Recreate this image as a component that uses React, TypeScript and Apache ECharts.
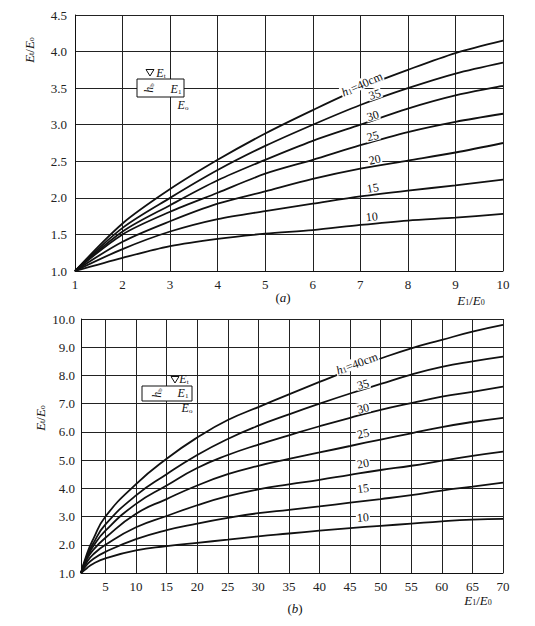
import React, { useEffect, useRef } from "react";
import * as echarts from "echarts";

const SERIF = "'Liberation Serif', 'DejaVu Serif', serif";
const INK = "#111";

// ---------- chart (a) ----------
const xA = [1, 2, 3, 4, 5, 6, 7, 8, 9, 10];
const hLevels = [40, 35, 30, 25, 20, 15, 10];
const a40 = [1, 1.65, 2.12, 2.52, 2.88, 3.2, 3.5, 3.75, 3.98, 4.15];
const a35 = [1, 1.59, 2.0, 2.38, 2.71, 3.0, 3.27, 3.5, 3.7, 3.85];
const a30 = [1, 1.54, 1.9, 2.24, 2.52, 2.78, 3.0, 3.22, 3.4, 3.53];
const a25 = [1, 1.5, 1.81, 2.07, 2.33, 2.52, 2.72, 2.9, 3.04, 3.15];
const a20 = [1, 1.4, 1.68, 1.92, 2.09, 2.26, 2.4, 2.51, 2.62, 2.75];
const a15 = [1, 1.3, 1.54, 1.71, 1.82, 1.92, 2.02, 2.1, 2.17, 2.25];
const a10 = [1, 1.18, 1.34, 1.44, 1.51, 1.56, 1.63, 1.69, 1.73, 1.78];
const seriesA = [a40, a35, a30, a25, a20, a15, a10];
// curve label anchors (data coords) and rotation
const labelAx = [7.03, 7.3, 7.26, 7.26, 7.3, 7.26, 7.24];
const labelAy = [3.56, 3.42, 3.13, 2.85, 2.53, 2.14, 1.75];
const labelArot = [24, 18, 17, 15, 12, 10, 6];

// ---------- chart (b) ----------
const xB = [1, 2, 3, 5, 10, 15, 20, 25, 30, 35, 40, 45, 50, 55, 60, 65, 70];
const ticksB = [5, 10, 15, 20, 25, 30, 35, 40, 45, 50, 55, 60, 65, 70];
const b40 = [1, 1.7, 2.2, 3.0, 4.15, 5.05, 5.8, 6.42, 6.88, 7.33, 7.77, 8.2, 8.6, 8.96, 9.26, 9.55, 9.79];
const b35 = [1, 1.62, 2.05, 2.72, 3.75, 4.5, 5.18, 5.75, 6.22, 6.62, 7.0, 7.36, 7.7, 8.03, 8.3, 8.5, 8.67];
const b30 = [1, 1.56, 1.95, 2.5, 3.45, 4.1, 4.72, 5.18, 5.55, 5.88, 6.2, 6.5, 6.78, 7.02, 7.25, 7.42, 7.6];
const b25 = [1, 1.5, 1.82, 2.25, 3.1, 3.62, 4.1, 4.5, 4.8, 5.04, 5.27, 5.5, 5.73, 5.95, 6.17, 6.35, 6.5];
const b20 = [1, 1.4, 1.66, 2.0, 2.62, 3.02, 3.4, 3.72, 3.96, 4.14, 4.3, 4.48, 4.65, 4.8, 4.98, 5.15, 5.3];
const b15 = [1, 1.3, 1.5, 1.75, 2.2, 2.52, 2.75, 2.95, 3.12, 3.24, 3.36, 3.49, 3.62, 3.76, 3.92, 4.06, 4.2];
const b10 = [1, 1.18, 1.33, 1.52, 1.8, 1.95, 2.07, 2.18, 2.3, 2.4, 2.5, 2.59, 2.67, 2.75, 2.83, 2.89, 2.92];
const seriesB = [b40, b35, b30, b25, b20, b15, b10];
const labelBx = [46.1, 47.1, 47.1, 47.1, 47.1, 47.1, 47.1];
const labelBy = [8.44, 7.7, 6.85, 5.96, 4.9, 4.01, 2.98];
const labelBrot = [20, 15, 13, 12, 10, 8, 5];

const richStyles = {
  i: { fontFamily: SERIF, fontStyle: "italic", fontSize: 13, lineHeight: 13, color: INK },
  n: { fontFamily: SERIF, fontSize: 13, lineHeight: 13, color: INK },
  s: { fontFamily: SERIF, fontSize: 8, lineHeight: 6, verticalAlign: "bottom", color: INK },
};

function curveLabelText(h: number) {
  return h === 40 ? "{i|h}{s|1}{n|=40cm}" : "{n|" + h + "}";
}

function makeSeries(
  xs: number[],
  ys: number[][],
  lx: number[],
  ly: number[],
  lr: number[],
  axis: number,
  smooth: number
) {
  return ys.map((vals, k) => ({
    type: "line",
    name: "h" + hLevels[k] + (axis === 0 ? "a" : "b"),
    xAxisIndex: axis,
    yAxisIndex: axis,
    data: xs.map((x, i) => [x, vals[i]]),
    smooth,
    symbol: "none",
    silent: true,
    lineStyle: { color: INK, width: 1.8 },
    markPoint: {
      silent: true,
      symbol: "rect",
      symbolSize: 1,
      itemStyle: { color: "rgba(0,0,0,0)" },
      data: [
        {
          coord: [lx[k], ly[k]],
          label: {
            show: true,
            position: "inside",
            rotate: lr[k],
            formatter: curveLabelText(hLevels[k]),
            backgroundColor: "#fff",
            padding: [0, 1, -1, 1],
            rich: {
              i: { ...richStyles.i, fontSize: 12, lineHeight: 12 },
              n: { ...richStyles.n, fontSize: 12, lineHeight: 12 },
              s: { ...richStyles.s, fontSize: 8, lineHeight: 6 },
            },
          },
        },
      ],
    },
  }));
}

const axisLine = { show: true, onZero: false, lineStyle: { color: INK, width: 1 } };
const splitLine = { show: true, lineStyle: { color: "#222", width: 1 } };
const labelStyle = { fontFamily: SERIF, fontSize: 13, color: "#222" };

function txt(x: number, y: number, text: string, rotation = 0, size = 13) {
  return {
    type: "text",
    x,
    y,
    rotation,
    silent: true,
    z: 100,
    style: {
      text,
      rich: {
        i: { ...richStyles.i, fontSize: size, lineHeight: size },
        n: { ...richStyles.n, fontSize: size, lineHeight: size },
        s: { ...richStyles.s, fontSize: Math.round(size * 0.62), lineHeight: Math.round(size * 0.45) },
      },
      align: "center",
      verticalAlign: "middle",
      fill: INK,
    },
  };
}

function inset(bx: number, by: number, bw: number, bh: number, tri: number[], et: number[], hb: number[], e1: number[], eo: number[]) {
  return [
    {
      type: "rect",
      shape: { x: bx, y: by, width: bw, height: bh },
      style: { fill: "#fff", stroke: INK, lineWidth: 1 },
      z: 99,
      silent: true,
    },
    {
      type: "polygon",
      shape: { points: [[tri[0] - 4, tri[1] - 3.5], [tri[0] + 4, tri[1] - 3.5], [tri[0], tri[1] + 3]] },
      style: { fill: "none", stroke: INK, lineWidth: 1 },
      z: 100,
      silent: true,
    },
    txt(et[0], et[1], "{i|E}{s|t}", 0, 12),
    txt(hb[0], hb[1], "{i|h}{s|b}", Math.PI / 2, 12),
    txt(e1[0], e1[1], "{i|E}{s|1}", 0, 12),
    txt(eo[0], eo[1], "{i|E}{s|o}", 0, 12),
  ];
}

export default function App() {
  const ref = useRef<HTMLDivElement>(null);
  useEffect(() => {
    document.body.style.margin = "0";
    const chart = echarts.init(ref.current!, null, { renderer: "svg" });
    const option = {
      animation: false,
      backgroundColor: "#fff",
      grid: [
        { left: 75, top: 15, width: 428, height: 256 },
        { left: 81, top: 319, width: 422, height: 254 },
      ],
      xAxis: [
        {
          type: "value",
          gridIndex: 0,
          min: 1,
          max: 10,
          interval: 1,
          axisLine,
          axisTick: { show: false },
          splitLine,
          axisLabel: { ...labelStyle, margin: 7, showMinLabel: true, showMaxLabel: true },
        },
        {
          type: "value",
          gridIndex: 1,
          min: 1,
          max: 70,
          axisLine,
          axisTick: { show: false, customValues: ticksB },
          splitLine,
          axisLabel: { ...labelStyle, margin: 7, customValues: ticksB },
        },
      ],
      yAxis: [
        {
          type: "value",
          gridIndex: 0,
          min: 1,
          max: 4.5,
          interval: 0.5,
          axisLine,
          axisTick: { show: false },
          splitLine,
          axisLabel: { ...labelStyle, margin: 8, formatter: (v: number) => v.toFixed(1) },
        },
        {
          type: "value",
          gridIndex: 1,
          min: 1,
          max: 10,
          interval: 1,
          axisLine,
          axisTick: { show: false },
          splitLine,
          axisLabel: { ...labelStyle, margin: 6, formatter: (v: number) => v.toFixed(1) },
        },
      ],
      series: [
        ...makeSeries(xA, seriesA, labelAx, labelAy, labelArot, 0, 0.3),
        ...makeSeries(xB, seriesB, labelBx, labelBy, labelBrot, 1, 0.5),
      ],
      graphic: [
        txt(29, 50, "{i|E}{s|t}{n|/}{i|E}{s|o}", Math.PI / 2),
        txt(40, 418, "{i|E}{s|t}{n|/}{i|E}{s|o}", Math.PI / 2),
        txt(471, 300, "{i|E}{s|1}{n|/}{i|E}{s|0}"),
        txt(478, 600, "{i|E}{s|1}{n|/}{i|E}{s|0}"),
        txt(283, 297, "{n|(}{i|a}{n|)}"),
        txt(295, 608, "{n|(}{i|b}{n|)}"),
        ...inset(137, 79, 47, 18, [150, 73], [161, 73], [149, 88], [176, 89], [183, 105]),
        ...inset(142, 386, 50, 15, [175, 380], [184, 379], [157, 393], [183, 393], [187, 408]),
      ],
    };
    chart.setOption(option as any);
    return () => chart.dispose();
  }, []);
  return <div ref={ref} style={{ width: 535, height: 626 }} />;
}
